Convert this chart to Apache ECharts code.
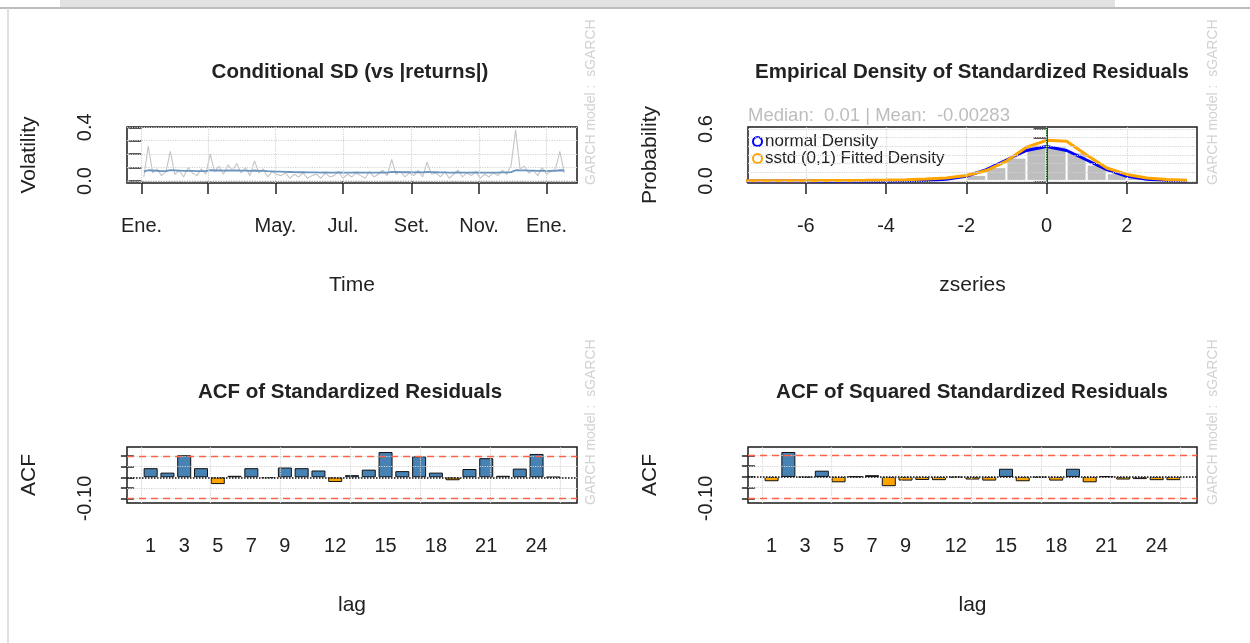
<!DOCTYPE html>
<html><head><meta charset="utf-8">
<script src="https://cdn.jsdelivr.net/npm/echarts@6/dist/echarts.min.js"></script>
<style>html,body{margin:0;padding:0;background:#fff}#c{width:1250px;height:643px}</style>
</head><body><div id="c"></div>
<script>
// ---------- Panel 1: Conditional SD (vs |returns|) ----------
const monthTickDays = [0, 60, 121, 182, 244, 305, 366];
const monthTickLabels = ['Ene.', '', 'May.', 'Jul.', 'Set.', 'Nov.', 'Ene.'];
const volTicks = [0, 0.1, 0.2, 0.3, 0.4];
const volLabelTicks = [0, 0.4];
const firstDay = 2, dayStep = 4;
const absReturns = [
  0.03, 0.26, 0.06, 0.09, 0.04, 0.07, 0.22, 0.05, 0.08, 0.03, 0.10, 0.06,
  0.04, 0.09, 0.05, 0.20, 0.07, 0.11, 0.05, 0.12, 0.08, 0.13, 0.06, 0.10,
  0.04, 0.15, 0.06, 0.09, 0.03, 0.07, 0.05, 0.04, 0.06, 0.02, 0.05, 0.03,
  0.06, 0.02, 0.04, 0.05, 0.02, 0.06, 0.03, 0.04, 0.07, 0.02, 0.05, 0.03,
  0.06, 0.04, 0.02, 0.07, 0.03, 0.05, 0.08, 0.04, 0.16, 0.05, 0.07, 0.03,
  0.06, 0.04, 0.08, 0.03, 0.14, 0.05, 0.06, 0.03, 0.07, 0.02, 0.05, 0.08,
  0.03, 0.06, 0.04, 0.07, 0.02, 0.05, 0.03, 0.06, 0.04, 0.08, 0.05, 0.12,
  0.38, 0.09, 0.11, 0.06, 0.08, 0.04, 0.10, 0.05, 0.07, 0.09, 0.22, 0.06
];
const condSigma = [
  0.070, 0.080, 0.078, 0.076, 0.074, 0.073, 0.081, 0.079, 0.077, 0.075, 0.076, 0.075,
  0.073, 0.074, 0.073, 0.080, 0.078, 0.079, 0.077, 0.078, 0.077, 0.079, 0.077, 0.077,
  0.076, 0.078, 0.076, 0.075, 0.073, 0.072, 0.070, 0.069, 0.068, 0.067, 0.066, 0.065,
  0.065, 0.064, 0.064, 0.064, 0.063, 0.064, 0.063, 0.063, 0.064, 0.063, 0.063, 0.063,
  0.064, 0.063, 0.062, 0.063, 0.063, 0.063, 0.064, 0.063, 0.068, 0.067, 0.066, 0.065,
  0.065, 0.064, 0.065, 0.064, 0.067, 0.066, 0.065, 0.064, 0.064, 0.063, 0.063, 0.064,
  0.063, 0.063, 0.063, 0.064, 0.063, 0.063, 0.062, 0.063, 0.063, 0.064, 0.064, 0.066,
  0.080, 0.079, 0.079, 0.077, 0.077, 0.076, 0.077, 0.076, 0.076, 0.076, 0.080, 0.078
];

// ---------- Panel 2: Empirical density ----------
const zBreaks = [-7.5,-7,-6.5,-6,-5.5,-5,-4.5,-4,-3.5,-3,-2.5,-2,-1.5,-1,-0.5,0,0.5,1,1.5,2,2.5,3,3.5];
const histDensity = [0.005,0,0,0,0,0,0,0,0.005,0.005,0.02,0.07,0.16,0.27,0.42,0.40,0.33,0.19,0.09,0.04,0.01,0.005];
const normalDensity = [0,0,0,0,0,0,0,0.0001,0.0009,0.0044,0.018,0.054,0.130,0.242,0.352,0.399,0.352,0.242,0.130,0.054,0.018,0.0044,0.0009];
const sstdDensity = [0.002,0.002,0.003,0.003,0.004,0.005,0.007,0.010,0.014,0.021,0.035,0.062,0.120,0.230,0.390,0.470,0.460,0.300,0.150,0.075,0.035,0.017,0.009];
const zMean = -0.00283, zMedian = 0.01;
const zTicks = [-6, -4, -2, 0, 2];
const probTicks = [0, 0.1, 0.2, 0.3, 0.4, 0.5, 0.6];
const probLabelTicks = [0, 0.6];

// ---------- Panels 3 & 4: ACF ----------
const lags = [1,2,3,4,5,6,7,8,9,10,11,12,13,14,15,16,17,18,19,20,21,22,23,24,25];
const lagLabels = [1,3,5,7,9,12,15,18,21,24];
const acfResid = [0.043,0.022,0.104,0.043,-0.032,0.007,0.043,-0.003,0.046,0.043,0.032,-0.022,0.010,0.036,0.119,0.029,0.099,0.022,-0.014,0.039,0.090,0.007,0.041,0.110,0.001];
const acfSqResid = [-0.020,0.116,-0.003,0.029,-0.025,0.001,0.008,-0.043,-0.017,-0.014,-0.015,-0.003,-0.012,-0.017,0.038,-0.020,-0.003,-0.017,0.038,-0.025,0.003,-0.012,-0.010,-0.015,-0.015];
const acfClim = 0.101;
const acfTicks = [-0.10, -0.05, 0, 0.05, 0.10];
const acfLabelTicks = [-0.10];
const acfGridLags = [0.417, 4.583, 8.75, 12.917, 17.083, 21.25, 25.417];

// ---------- build ----------
const FONT = 'Liberation Sans';
const TXT = '#222';
const gridLine = {color: '#d3d3d3', type: 'dotted', width: 1.2};

function gridMarks(xs, ys) {
  const d = [];
  xs.forEach(v => d.push({xAxis: v, lineStyle: gridLine}));
  ys.forEach(v => d.push({yAxis: v, lineStyle: gridLine}));
  return d;
}
function baseAxisLabel(extra) {
  return Object.assign({fontSize: 20, color: TXT, fontFamily: FONT, margin: 33}, extra);
}
const tickStyle = {length: 13, lineStyle: {color: TXT, width: 1.5}};

function yAxisCfg(gi, name, min, max, ticks, labels, fmt) {
  return {
    type: 'value', gridIndex: gi, min: min, max: max,
    name: name, nameLocation: 'middle', nameGap: 87, nameRotate: 90,
    nameTextStyle: {fontSize: 21, color: TXT, fontFamily: FONT},
    axisLine: {show: false},
    axisTick: Object.assign({show: true, customValues: ticks}, tickStyle),
    axisLabel: baseAxisLabel({rotate: 90, customValues: labels, formatter: fmt, margin: 32}),
    splitLine: {show: false}
  };
}
function xAxisCfg(gi, name, min, max, ticks, labels, fmt, showTick) {
  return {
    type: 'value', gridIndex: gi, min: min, max: max,
    name: name, nameLocation: 'middle', nameGap: 92,
    nameTextStyle: {fontSize: 21, color: TXT, fontFamily: FONT},
    axisLine: {show: false},
    axisTick: Object.assign({show: showTick, customValues: ticks}, tickStyle),
    axisLabel: baseAxisLabel({customValues: labels, formatter: fmt}),
    splitLine: {show: false}
  };
}

const acfMinY = -1.2 * acfClim;
const acfMaxR = 1.2 * Math.max(acfClim, Math.max.apply(null, acfResid));
const acfMaxS = 1.2 * Math.max(acfClim, Math.max.apply(null, acfSqResid));

function acfBars(vals, gi) {
  return {
    type: 'bar', xAxisIndex: gi, yAxisIndex: gi, barWidth: 14,
    data: vals.map((v, i) => ({value: [lags[i], v], itemStyle: {color: v >= 0 ? '#4682b4' : '#ffa500'}})),
    itemStyle: {borderColor: '#111', borderWidth: 1},
    silent: true,
    markLine: {
      silent: true, symbol: ['none', 'none'], label: {show: false}, animation: false,
      data: gridMarks(acfGridLags, acfTicks).concat([
        {yAxis: acfClim, lineStyle: {color: '#ff6347', type: [7, 5], width: 1.3}},
        {yAxis: -acfClim, lineStyle: {color: '#ff6347', type: [7, 5], width: 1.3}},
        {yAxis: 0, lineStyle: {color: '#111', type: 'dotted', width: 1.5}}
      ])
    }
  };
}

const sideText = 'GARCH model :  sGARCH';
function side(x, y) {
  return {type: 'text', x: x, y: y, rotation: Math.PI / 2, silent: true,
    style: {text: sideText, fontSize: 14, fill: '#d2d2d2', fontFamily: FONT, align: 'left', verticalAlign: 'middle'}};
}
const titleStyle = {fontSize: 20.5, fontWeight: 'bold', color: TXT, fontFamily: FONT};

const option = {
  animation: false,
  backgroundColor: '#ffffff',
  title: [
    {text: 'Conditional SD (vs |returns|)', left: 350, top: 62, textAlign: 'center', padding: 0, textStyle: titleStyle},
    {text: 'Empirical Density of Standardized Residuals', left: 972, top: 62, textAlign: 'center', padding: 0, textStyle: titleStyle},
    {text: 'ACF of Standardized Residuals', left: 350, top: 382, textAlign: 'center', padding: 0, textStyle: titleStyle},
    {text: 'ACF of Squared Standardized Residuals', left: 972, top: 382, textAlign: 'center', padding: 0, textStyle: titleStyle},
    {text: 'Median:  ' + zMedian + ' | Mean:  ' + zMean, left: 748, top: 106, padding: 0,
      textStyle: {fontSize: 18.5, fontWeight: 'normal', color: '#bdbdbd', fontFamily: FONT}}
  ],
  legend: {
    left: 752, top: 133, orient: 'vertical', itemGap: 0, itemWidth: 9, itemHeight: 9,
    icon: 'emptyCircle', selectedMode: false, padding: 0,
    data: ['normal Density', 'sstd (0,1) Fitted Density'],
    textStyle: {fontSize: 17, color: TXT, fontFamily: FONT, lineHeight: 15, padding: [0, 0, 0, -2]}
  },
  grid: [
    {left: 127, top: 127, width: 450, height: 56, show: true, borderColor: '#1a1a1a', borderWidth: 1.5},
    {left: 748, top: 127, width: 449, height: 56, show: true, borderColor: '#1a1a1a', borderWidth: 1.5},
    {left: 127, top: 447, width: 450, height: 56, show: true, borderColor: '#1a1a1a', borderWidth: 1.5},
    {left: 748, top: 447, width: 449, height: 56, show: true, borderColor: '#1a1a1a', borderWidth: 1.5}
  ],
  xAxis: [
    xAxisCfg(0, 'Time', -13.2, 393.5, monthTickDays, monthTickDays,
      v => monthTickLabels[monthTickDays.indexOf(Math.round(v))] || '', true),
    xAxisCfg(1, 'zseries', -7.44, 3.75, zTicks, zTicks, v => String(v), true),
    xAxisCfg(2, 'lag', -0.41, 26.41, lagLabels, lagLabels, v => String(v), false),
    xAxisCfg(3, 'lag', -0.41, 26.41, lagLabels, lagLabels, v => String(v), false)
  ],
  yAxis: [
    yAxisCfg(0, 'Volatility', -0.015, 0.402, volTicks, volLabelTicks, v => v.toFixed(1)),
    yAxisCfg(1, 'Probability', -0.024, 0.624, probTicks, probLabelTicks, v => v.toFixed(1)),
    yAxisCfg(2, 'ACF', acfMinY, acfMaxR, acfTicks, acfLabelTicks, v => v.toFixed(2)),
    yAxisCfg(3, 'ACF', acfMinY, acfMaxS, acfTicks, acfLabelTicks, v => v.toFixed(2))
  ],
  series: [
    {
      type: 'line', xAxisIndex: 0, yAxisIndex: 0, symbol: 'none', silent: true,
      data: absReturns.map((v, i) => [firstDay + i * dayStep, v]),
      lineStyle: {color: '#c4c4c4', width: 1.1}
    },
    {
      type: 'line', xAxisIndex: 0, yAxisIndex: 0, symbol: 'none', silent: true,
      data: condSigma.map((v, i) => [firstDay + i * dayStep, v]),
      lineStyle: {color: '#6a93bd', width: 1.8},
      markLine: {
        silent: true, symbol: ['none', 'none'], label: {show: false}, animation: false,
        data: gridMarks(monthTickDays, volTicks).concat([
          {yAxis: 0, lineStyle: {color: '#9e9e9e', type: 'dotted', width: 1.3}}
        ])
      }
    },
    {
      type: 'bar', xAxisIndex: 1, yAxisIndex: 1, barWidth: 20, silent: true,
      data: histDensity.map((v, i) => [(zBreaks[i] + zBreaks[i + 1]) / 2, v]),
      itemStyle: {color: '#bebebe', borderColor: '#ffffff', borderWidth: 1}
    },
    {
      name: 'normal Density', type: 'line', xAxisIndex: 1, yAxisIndex: 1, symbol: 'none', silent: true,
      data: normalDensity.map((v, i) => [zBreaks[i], v]),
      lineStyle: {color: '#0000ff', width: 3}, itemStyle: {color: '#0000ff'}
    },
    {
      name: 'sstd (0,1) Fitted Density', type: 'line', xAxisIndex: 1, yAxisIndex: 1, symbol: 'none', silent: true,
      data: sstdDensity.map((v, i) => [zBreaks[i], v]),
      lineStyle: {color: '#ffa500', width: 3}, itemStyle: {color: '#ffa500'},
      markLine: {
        silent: true, symbol: ['none', 'none'], label: {show: false}, animation: false,
        data: [
          {xAxis: zMean, lineStyle: {color: '#ff0000', type: 'solid', width: 2}},
          {xAxis: zMedian, lineStyle: {color: '#006400', type: 'solid', width: 2}}
        ].concat(gridMarks(zTicks, probTicks))
      }
    },
    acfBars(acfResid, 2),
    acfBars(acfSqResid, 3)
  ],
  graphic: [
    {type: 'rect', shape: {x: 60, y: 0, width: 1055, height: 7}, style: {fill: '#e2e2e2'}, silent: true},
    {type: 'line', shape: {x1: 0, y1: 8, x2: 1250, y2: 8}, style: {stroke: '#bdbdbd', lineWidth: 2}, silent: true},
    {type: 'line', shape: {x1: 8, y1: 8, x2: 8, y2: 643}, style: {stroke: '#d4d4d4', lineWidth: 1.5}, silent: true},
    side(591, 185), side(1213, 185), side(591, 505), side(1213, 505)
  ]
};

const chart = echarts.init(document.getElementById('c'), null, {renderer: 'canvas'});
chart.setOption(option);
</script>
</body></html>
